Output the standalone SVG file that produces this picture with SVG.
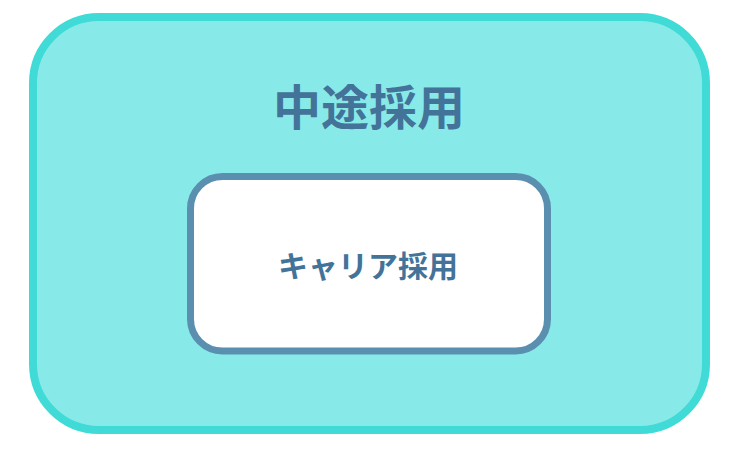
<svg xmlns="http://www.w3.org/2000/svg" width="742" height="450" viewBox="0 0 742 450">
<style>
.t{font-family:"Noto Sans CJK JP","Noto Sans",sans-serif;font-weight:bold;fill:#44739a;text-anchor:middle}
</style>
<rect width="742" height="450" fill="#ffffff"/>
<g id="outer">
<rect x="33" y="17" width="673" height="413" rx="66" ry="66" fill="#88eae8" stroke="#40dbd6" stroke-width="8"/>
<text class="t" x="369" y="125" font-size="48">中途採用</text>
</g>
<g id="inner">
<rect x="190.5" y="176.5" width="357" height="174.5" rx="32" ry="32" fill="#ffffff" stroke="#5b8fb0" stroke-width="7"/>
<text class="t" x="368" y="277" font-size="30">キャリア採用</text>
</g>
<g id="connectors"></g>
</svg>
